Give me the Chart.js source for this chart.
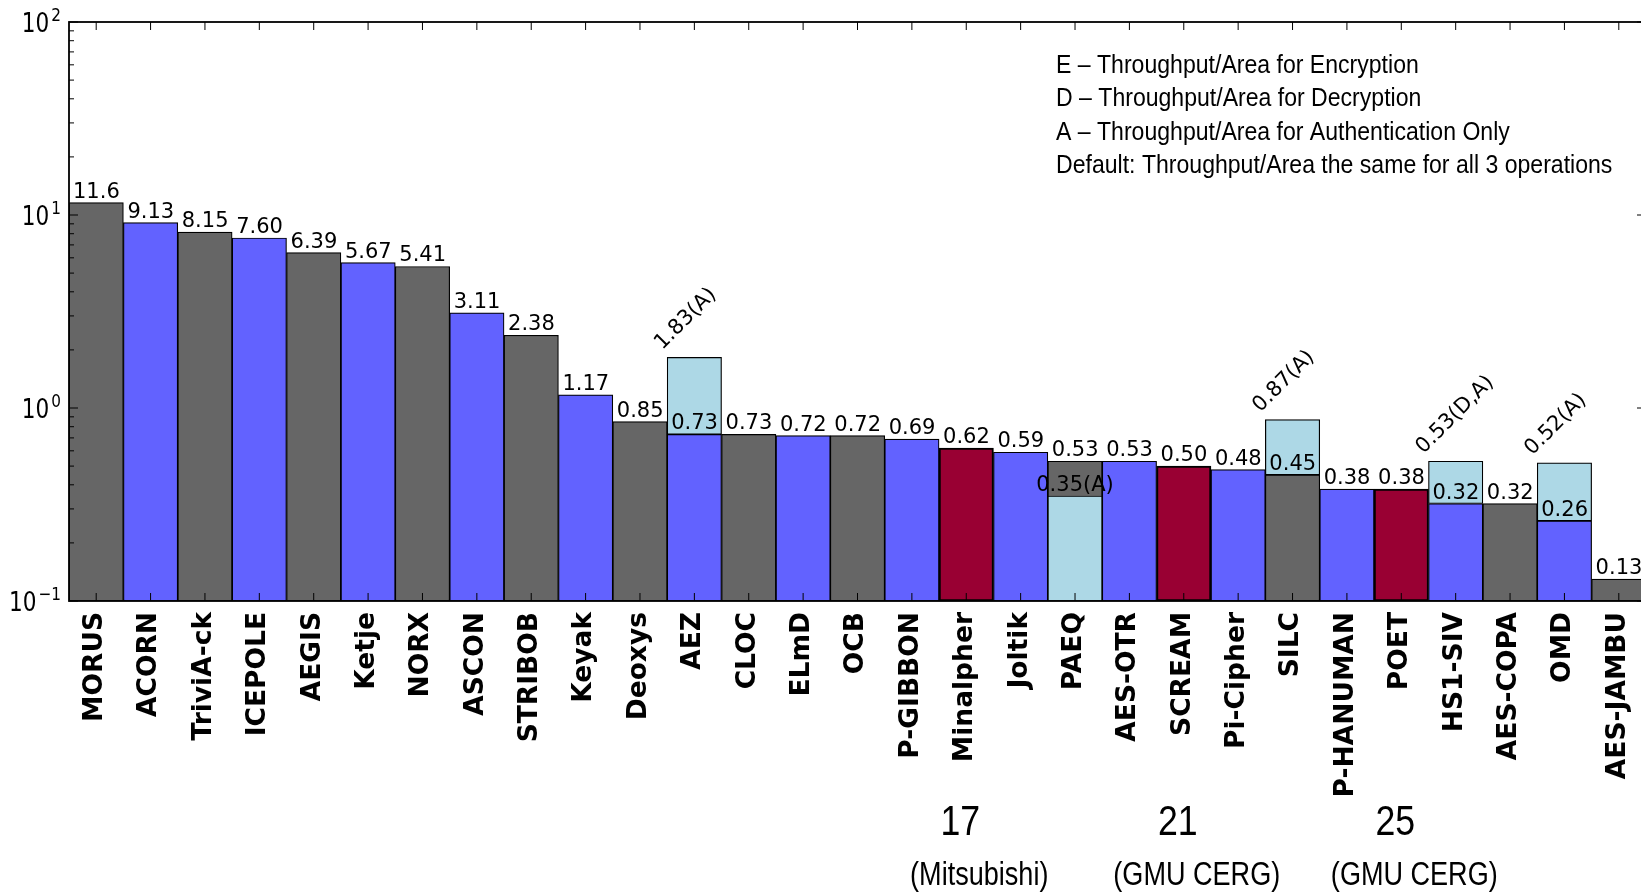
<!DOCTYPE html>
<html>
<head>
<meta charset="utf-8">
<title>Throughput/Area</title>
<script src="https://cdn.jsdelivr.net/npm/chart.js@4.4.1/dist/chart.umd.min.js"></script>
<style>
  html, body { margin: 0; padding: 0; background: #fff; overflow: hidden; }
  canvas { display: block; }
</style>
</head>
<body>
<canvas id="grafico" width="1660" height="894"></canvas>
<script>
// dados
const schemes = ['MORUS', 'ACORN', 'TriviA-ck', 'ICEPOLE', 'AEGIS', 'Ketje', 'NORX', 'ASCON',
    'STRIBOB', 'Keyak', 'Deoxys', 'AEZ', 'CLOC', 'ELmD', 'OCB', 'P-GIBBON', 'Minalpher',
    'Joltik', 'PAEQ', 'AES-OTR', 'SCREAM', 'Pi-Cipher', 'SILC', 'P-HANUMAN', 'POET',
    'HS1-SIV', 'AES-COPA', 'OMD', 'AES-JAMBU'];
const throughputArea = [11.6, 9.13, 8.15, 7.60, 6.39, 5.67, 5.41, 3.11, 2.38, 1.17, 0.85, 0.73,
    0.73, 0.72, 0.72, 0.69, 0.62, 0.59, 0.53, 0.53, 0.50, 0.48, 0.45, 0.38, 0.38, 0.32, 0.32,
    0.26, 0.13];

const authNames = ['AEZ', 'PAEQ', 'SILC', 'HS1-SIV', 'OMD'];
const authValues = [1.83, 0.35, 0.87, 0.53, 0.52];
const authTags = ['A', 'A', 'A', 'D,A', 'A'];

const rankNames = ['Minalpher', 'SCREAM', 'POET'];
const rankNumbers = ['17', '21', '25'];
const rankTeams = ['(Mitsubishi)', '(GMU CERG)', '(GMU CERG)'];

const legendLines = [
    'E \u2013 Throughput/Area for Encryption',
    'D \u2013 Throughput/Area for Decryption',
    'A \u2013 Throughput/Area for Authentication Only',
    'Default: Throughput/Area the same for all 3 operations'
];
const yExponents = [-1, 0, 1, 2];

// cores
const GRAY = '#666666';
const BLUE = '#6262ff';
const RED = '#990033';
const LIGHT = '#add8e6';
const barColors = [GRAY, BLUE, GRAY, BLUE, GRAY, BLUE, GRAY, BLUE, GRAY, BLUE, GRAY, BLUE,
    GRAY, BLUE, GRAY, BLUE, RED, BLUE, GRAY, BLUE, RED, BLUE, GRAY, BLUE, RED, BLUE, GRAY,
    BLUE, GRAY];

// barra azul clara: por cima da barra principal, ou por baixo quando menor
const authData = schemes.map((name, i) => {
    const k = authNames.indexOf(name);
    if (k < 0) return null;
    const v = authValues[k];
    return v > throughputArea[i] ? [throughputArea[i], v] : v;
});

function formatValue(v) {
    return v >= 10 ? v.toFixed(1) : v.toFixed(2);
}

function narrowText(ctx, text, x, y, size, sx, align) {
    ctx.save();
    ctx.font = size + 'px "Liberation Sans", Arial, sans-serif';
    ctx.translate(x, y);
    ctx.scale(sx, 1);
    ctx.textAlign = align;
    ctx.textBaseline = 'alphabetic';
    ctx.fillText(text, 0, 0);
    ctx.restore();
}

const framePlugin = {
    id: 'frame',
    afterDatasetsDraw(chart) {
        const { ctx, chartArea: a, scales: { y } } = chart;
        const bars = chart.getDatasetMeta(1).data;
        ctx.save();
        ctx.fillStyle = '#000';
        ctx.strokeStyle = '#000';

        // ticks do eixo x (topo e base)
        ctx.lineWidth = 1;
        bars.forEach(el => {
            ctx.beginPath();
            ctx.moveTo(el.x, a.bottom);
            ctx.lineTo(el.x, a.bottom - 8);
            ctx.moveTo(el.x, a.top);
            ctx.lineTo(el.x, a.top + 8);
            ctx.stroke();
        });

        // ticks do eixo y (log, com menores)
        for (let k = -1; k <= 2; k++) {
            for (let m = 1; m <= 9; m++) {
                if (k === 2 && m > 1) break;
                const yp = y.getPixelForValue(m * Math.pow(10, k));
                const len = m === 1 ? 9 : 5;
                ctx.beginPath();
                ctx.moveTo(a.left, yp);
                ctx.lineTo(a.left + len, yp);
                ctx.moveTo(a.right, yp);
                ctx.lineTo(a.right - len, yp);
                ctx.stroke();
            }
        }

        // moldura
        ctx.lineWidth = 1.8;
        ctx.strokeRect(a.left, a.top, a.right - a.left, a.bottom - a.top);

        // rotulos do eixo y: 10^k
        yExponents.forEach(k => {
            const yp = y.getPixelForValue(Math.pow(10, k));
            const exp = String(k).replace('-', '\u2212');
            ctx.save();
            ctx.font = '18px "DejaVu Sans", sans-serif';
            const expW = ctx.measureText(exp).width * 0.85;
            ctx.translate(61, yp - 1.5);
            ctx.scale(0.85, 1);
            ctx.textAlign = 'right';
            ctx.fillText(exp, 0, 0);
            ctx.restore();
            ctx.save();
            ctx.font = '27px "DejaVu Sans", sans-serif';
            ctx.translate(61 - expW - 2, yp + 9.5);
            ctx.scale(0.8, 1);
            ctx.textAlign = 'right';
            ctx.fillText('10', 0, 0);
            ctx.restore();
        });

        // nomes das cifras, rotacionados
        ctx.font = 'bold 26.5px "DejaVu Sans", sans-serif';
        bars.forEach((el, i) => {
            ctx.save();
            ctx.translate(el.x - 1, a.bottom + 11);
            ctx.rotate(-Math.PI / 2);
            ctx.textAlign = 'right';
            ctx.textBaseline = 'middle';
            ctx.fillText(schemes[i], 0, 0);
            ctx.restore();
        });

        // valores acima das barras
        ctx.font = '21px "DejaVu Sans", sans-serif';
        ctx.textAlign = 'left';
        ctx.textBaseline = 'alphabetic';
        bars.forEach((el, i) => {
            ctx.fillText(formatValue(throughputArea[i]), el.x - el.width / 2 + 4, el.y - 5);
        });

        // valores de autenticacao
        const authBars = chart.getDatasetMeta(0).data;
        authNames.forEach((name, k) => {
            const i = schemes.indexOf(name);
            const el = authBars[i];
            const text = authValues[k].toFixed(2) + '(' + authTags[k] + ')';
            if (authValues[k] > throughputArea[i]) {
                ctx.save();
                ctx.translate(el.x - el.width / 2 - 5, el.y - 7);
                ctx.rotate(-Math.PI / 4);
                ctx.textAlign = 'left';
                ctx.fillText(text, 0, 0);
                ctx.restore();
            } else {
                ctx.textAlign = 'center';
                ctx.fillText(text, el.x, el.y - 5);
                ctx.textAlign = 'left';
            }
        });

        // legenda de texto
        legendLines.forEach((line, j) => {
            narrowText(ctx, line, 1056, 73 + j * 33.4, 26, 0.887, 'left');
        });

        // posicoes de ranking
        rankNames.forEach((name, k) => {
            const el = bars[schemes.indexOf(name)];
            narrowText(ctx, rankNumbers[k], el.x - 6, 835, 42, 0.85, 'center');
            narrowText(ctx, rankTeams[k], el.x + 13, 885, 33, 0.82, 'center');
        });

        ctx.restore();
    }
};

const grafico = new Chart(document.getElementById('grafico'), {
    type: 'bar',
    data: {
        labels: schemes,
        datasets: [
            {
                label: 'Authentication',
                data: authData,
                backgroundColor: LIGHT,
                borderColor: '#000',
                borderWidth: 1.2,
                borderSkipped: false,
                grouped: false,
                barPercentage: 1,
                categoryPercentage: 1,
                order: 0
            },
            {
                label: 'Throughput/Area',
                data: throughputArea,
                backgroundColor: barColors,
                borderColor: '#000',
                borderWidth: barColors.map(c => c === RED ? 2 : 1.2),
                borderSkipped: false,
                grouped: false,
                barPercentage: 1,
                categoryPercentage: 1,
                order: 1
            }
        ]
    },
    options: {
        responsive: false,
        animation: false,
        layout: { padding: { left: 69, top: 22, right: 14, bottom: 293 } },
        plugins: {
            legend: { display: false },
            tooltip: { enabled: false }
        },
        scales: {
            x: { display: false },
            y: { type: 'logarithmic', display: false, min: 0.1, max: 100 }
        }
    },
    plugins: [framePlugin]
});
</script>
</body>
</html>
